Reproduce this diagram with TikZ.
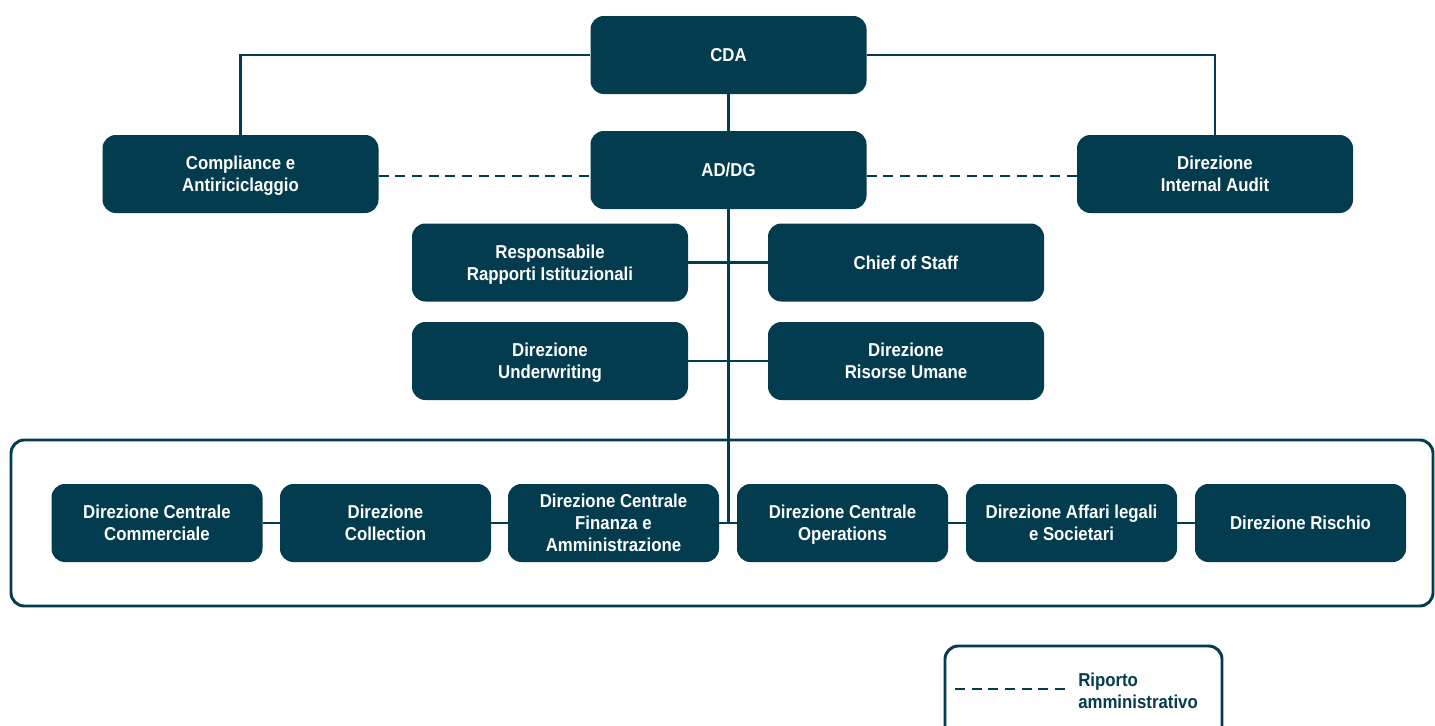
\documentclass[tikz,border=0pt]{standalone}
\usepackage{fontspec}
\setmainfont[FakeStretch=0.9]{Liberation Sans}
\definecolor{teal}{HTML}{033C4E}
\begin{document}
\begin{tikzpicture}[x=0.75pt,y=-0.75pt,
  orgbox/.style={fill=teal, rounded corners=10pt, inner sep=0pt, text=white, align=center,
    font=\fontsize{14}{16.5}\selectfont\bfseries, text depth=0pt},
  bigbox/.style={orgbox, minimum width=207pt, minimum height=58.5pt},
  rowbox/.style={orgbox, minimum width=158.25pt, minimum height=58.5pt},
  conn/.style={draw=teal, line width=1.7pt},
  dashconn/.style={draw=teal, line width=1.7pt, dash pattern=on 7.5pt off 5pt},
  frame/.style={draw=teal, line width=2.2pt, rounded corners=10pt}]
\clip (0,0) rectangle (1435,725);
\fill[white] (0,0) rectangle (1435,725);
% frames
\draw[frame] (11,440) rectangle (1433,606);
\draw[frame] (945,646) rectangle (1222,745);
% top boxes
\node[bigbox] (cda) at (728.5,55) {CDA};
\node[bigbox] (addg) at (728.5,170) {AD/DG};
\node[bigbox] (comp) at (240.5,174) {Compliance e\\Antiriciclaggio};
\node[bigbox] (audit) at (1215,174) {Direzione\\Internal Audit};
\node[bigbox] (resp) at (550,262.5) {Responsabile\\Rapporti Istituzionali};
\node[bigbox] (chief) at (906,262.5) {Chief of Staff};
\node[bigbox] (under) at (550,361) {Direzione\\Underwriting};
\node[bigbox] (risorse) at (906,361) {Direzione\\Risorse Umane};
% bottom row
\node[rowbox] (comm) at (157,523) {Direzione Centrale\\Commerciale};
\node[rowbox] (coll) at (385.5,523) {Direzione\\Collection};
\node[rowbox] (fin) at (613.5,523) {Direzione Centrale\\Finanza e\\Amministrazione};
\node[rowbox] (oper) at (842.5,523) {Direzione Centrale\\Operations};
\node[rowbox] (legal) at (1071.5,523) {Direzione Affari legali\\e Societari};
\node[rowbox] (risk) at (1300.5,523) {Direzione Rischio};
% connectors
\draw[conn] (cda.west) -| (comp.north);
\draw[conn] (cda.east) -| (audit.north);
\draw[conn] (cda.south) -- (addg.north);
\draw[dashconn] (comp.east |- 0,176) -- (addg.west |- 0,176);
\draw[dashconn] (addg.east |- 0,176) -- (audit.west |- 0,176);
\coordinate (rowjoin) at (728.5,522);
\draw[conn] (addg.south) -- (rowjoin);
\draw[conn] (resp.east) -- (chief.west);
\draw[conn] (under.east) -- (risorse.west);
\draw[conn] (comm.east) -- (coll.west);
\draw[conn] (coll.east) -- (fin.west);
\draw[conn] (fin.east) -- (oper.west);
\draw[conn] (oper.east) -- (legal.west);
\draw[conn] (legal.east) -- (risk.west);
% legend
\coordinate (lga) at (955,689);
\coordinate (lgb) at (1066,689);
\draw[dashconn] (lga) -- (lgb);
\node[anchor=west, inner sep=0pt, align=left, text=teal,
  font=\fontsize{14}{16.5}\selectfont\bfseries] (legtext) at (1078,691) {Riporto\\amministrativo};
\end{tikzpicture}
\end{document}
